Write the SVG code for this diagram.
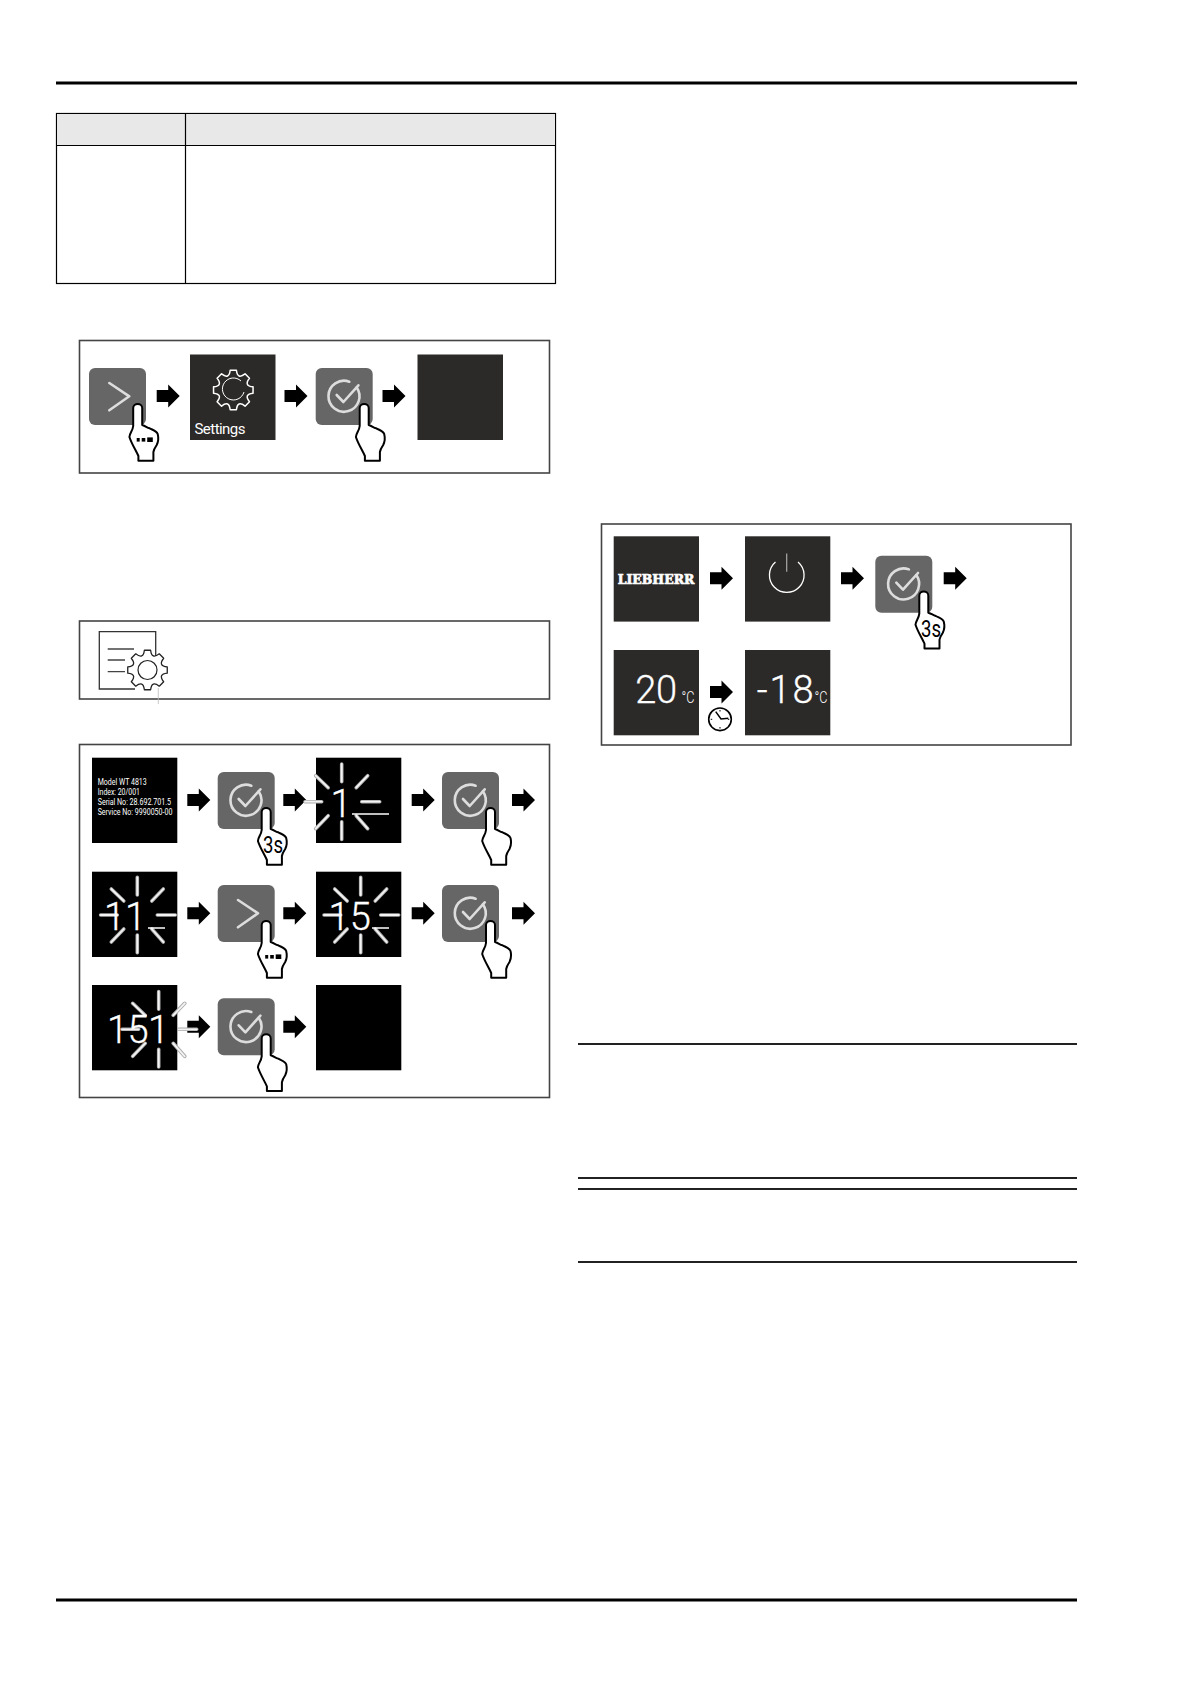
<svg xmlns="http://www.w3.org/2000/svg" width="1191" height="1684" viewBox="0 0 1191 1684">
<style>
.box{fill:#fff;stroke:#444;stroke-width:1.6}
.dark{fill:#2c2a29}
.blk{fill:#000}
.btn{fill:#666}
.ico{fill:none;stroke:#ddd;stroke-width:2.6;stroke-linecap:round;stroke-linejoin:round}
.hand{fill:#fff;stroke:#000;stroke-width:2;stroke-linejoin:round}
.rule{fill:#222}
.rayo{fill:none;stroke:#aaa;stroke-width:3.6;stroke-linecap:round}
.rayi{fill:none;stroke:#f4f4f4;stroke-width:1.8;stroke-linecap:round}
.thin{fill:none;stroke:#fff;stroke-width:1.5}
.gear{fill:none;stroke:#fff;stroke-width:1.5;stroke-linejoin:round}
text{font-family:Roboto,"Liberation Sans",sans-serif;fill:#fff}
.num{font-size:38px;font-weight:300;stroke:#fff;stroke-width:0.3}
.info{font-size:8.2px}
.deg{font-size:16px;font-weight:300}
.s3{font-size:23px;fill:#000;font-weight:400}
</style>
<defs>
<path id="arrow" d="M0,-6H11.500V-11.500L23,0L11.500,11.500V6H0Z" fill="#000"/>
<g id="btn-check"><rect class="btn" width="57" height="57" rx="6"/><path class="ico" d="M41,19.400A15.500,15.500 0 1 1 33.600,13.700"/><path class="ico" d="M21,27L27.700,34L42.700,17.300"/></g>
<g id="btn-next"><rect class="btn" width="57" height="57" rx="6"/><path class="ico" d="M20.300,15L40.300,28.300L20.300,42.300"/></g>
<path id="hand" class="hand" d="M-4.500,22L-4.500,4C-4.500,-1.500 4.500,-1.500 4.500,4L4.500,21C8,22 9,23.500 12,24.300C15,26 19,27 20,30C21,34 20.500,38 19,41C17,44 16,46 15.700,48L15.700,56.700L0.700,56.700L0.700,52C-2,46 -6,40 -8.300,33C-8,29 -5,27 -4.500,22Z"/>
<g id="dots" fill="#000"><rect x="-1" y="34" width="3" height="3.600"/><rect x="4" y="34" width="3.600" height="3.600"/><rect x="9.500" y="33.400" width="5.600" height="4.600"/></g>
<g id="rays"><path class="rayo" d="M0,-37.700V-20M0,20V37.700M-36.700,0H-20M20,0H38M-26,-26L-13.500,-14M26,-26L14.500,-14M-26,27L-13.500,14M26,27L14.500,14"/><path class="rayi" d="M0,-37.700V-20M0,20V37.700M-36.700,0H-20M20,0H38M-26,-26L-13.500,-14M26,-26L14.500,-14M-26,27L-13.500,14M26,27L14.500,14"/></g>
<path id="cog" d="M19.750,3.130Q10.160,4.210 16.180,11.760L11.760,16.180Q4.210,10.160 3.130,19.750L-3.130,19.750Q-4.210,10.160 -11.760,16.180L-16.180,11.760Q-10.160,4.210 -19.750,3.130L-19.750,-3.130Q-10.160,-4.210 -16.180,-11.760L-11.760,-16.180Q-4.210,-10.160 -3.130,-19.750L3.130,-19.750Q4.210,-10.160 11.760,-16.180L16.180,-11.760Q10.160,-4.210 19.750,-3.130Z"/>
</defs>
<rect width="1191" height="1684" fill="#fff"/>

<g id="page-rules">
<rect x="56" y="81.500" width="1021" height="3" fill="#000"/>
<rect x="56" y="1598.500" width="1021" height="3" fill="#000"/>
<rect class="rule" x="578" y="1043" width="499" height="2"/>
<rect class="rule" x="578" y="1177" width="499" height="2"/>
<rect class="rule" x="578" y="1188" width="499" height="2"/>
<rect class="rule" x="578" y="1261" width="499" height="2"/>
</g>

<g id="table">
<rect x="56.500" y="113.500" width="499" height="170" fill="#fff" stroke="#000" stroke-width="1.200"/>
<rect x="57" y="114" width="498" height="31.500" fill="#e8e8e8"/>
<path d="M56,145.500H556M185.500,113V284" fill="none" stroke="#000" stroke-width="1.200"/>
</g>

<g id="frames">
<rect class="box" x="79.500" y="340.500" width="470" height="132.500"/>
<rect class="box" x="79.500" y="621" width="470" height="78"/>
<rect class="box" x="79.500" y="744.500" width="470" height="353"/>
<rect class="box" x="601.500" y="524" width="469.500" height="221"/>
</g>

<g id="connectors">
<use href="#arrow" x="156.700" y="396"/><use href="#arrow" x="284.500" y="396"/><use href="#arrow" x="382.500" y="396"/>
<use href="#arrow" x="187.300" y="800"/><use href="#arrow" x="283.300" y="800"/><use href="#arrow" x="411.700" y="800"/><use href="#arrow" x="512" y="800"/>
<use href="#arrow" x="187.300" y="913.300"/><use href="#arrow" x="283.300" y="913.300"/><use href="#arrow" x="411.700" y="913.300"/><use href="#arrow" x="512" y="913.300"/>
<use href="#arrow" x="187.300" y="1026.700"/><use href="#arrow" x="283.300" y="1026.700"/>
<use href="#arrow" x="710" y="578.300"/><use href="#arrow" x="841" y="578.300"/><use href="#arrow" x="943.700" y="578.300"/>
<use href="#arrow" x="710" y="692"/>
</g>

<g id="n1-next"><use href="#btn-next" x="89" y="368"/><use href="#hand" x="137.700" y="404"/><use href="#dots" x="137.700" y="404"/></g>
<g id="n1-settings"><rect class="dark" x="190" y="354.500" width="85.500" height="85.500"/><use href="#cog" class="gear" x="233.300" y="390"/><path class="thin" style="stroke-width:1" d="M241,381A11,11 0 1 0 244,392"/><text x="194.500" y="434" font-size="15" textLength="51">Settings</text></g>
<g id="n1-check"><use href="#btn-check" x="315.700" y="368"/><use href="#hand" x="364.200" y="404"/></g>
<g id="n1-blank"><rect class="dark" x="417.500" y="354.500" width="85.500" height="85.500"/></g>

<g id="n2-icon">
<path d="M155.700,667V631.700H99.300V689H135" fill="none" stroke="#333" stroke-width="1.300"/>
<path d="M107.700,649H134M107.700,660H125M107.700,671.700H125" fill="none" stroke="#444" stroke-width="1.300"/>
<use href="#cog" x="147.500" y="670" fill="#fff" stroke="#222" stroke-width="1.300" stroke-linejoin="round"/>
<circle cx="147.500" cy="670" r="9.500" fill="none" stroke="#222" stroke-width="1.200"/>
<path d="M158.300,688V704" stroke="#bbb" stroke-width="0.800"/>
</g>

<g id="n3-info"><rect class="blk" x="92" y="757.700" width="85.300" height="85.300"/>
<text class="info" x="97.700" y="785" textLength="49" lengthAdjust="spacingAndGlyphs">Model WT 4813</text>
<text class="info" x="97.700" y="795" textLength="42.300" lengthAdjust="spacingAndGlyphs">Index: 20/001</text>
<text class="info" x="97.700" y="805" textLength="73.300" lengthAdjust="spacingAndGlyphs">Serial No: 28.692.701.5</text>
<text class="info" x="97.700" y="815" textLength="74.700" lengthAdjust="spacingAndGlyphs">Service No: 9990050-00</text></g>
<g id="n3-check1"><use href="#btn-check" x="217.700" y="772"/><use href="#hand" x="266.200" y="808"/><text class="s3" x="273" y="853" text-anchor="middle" textLength="20" lengthAdjust="spacingAndGlyphs">3s</text></g>
<g id="n3-digit1"><rect class="blk" x="316" y="757.700" width="85.300" height="85.300"/><use href="#rays" x="341.700" y="801.700"/><path class="thin" d="M352,814H389"/><text class="num" x="341" y="816.700" text-anchor="middle">1</text></g>
<g id="n3-check2"><use href="#btn-check" x="442" y="772"/><use href="#hand" x="490.500" y="808"/></g>
<g id="n3-digit11"><rect class="blk" x="92" y="871.700" width="85.300" height="85.300"/><use href="#rays" x="137.300" y="915"/><path class="thin" d="M148,928H165"/><text class="num" x="125" y="930" text-anchor="middle">11</text></g>
<g id="n3-next"><use href="#btn-next" x="217.700" y="885"/><use href="#hand" x="266.200" y="921"/><use href="#dots" x="266.200" y="921"/></g>
<g id="n3-digit15"><rect class="blk" x="316" y="871.700" width="85.300" height="85.300"/><use href="#rays" x="360.700" y="915"/><path class="thin" d="M372,928H389"/><text class="num" x="349.700" y="930" text-anchor="middle">15</text></g>
<g id="n3-check3"><use href="#btn-check" x="442" y="885"/><use href="#hand" x="490.500" y="921"/></g>
<g id="n3-digit151"><rect class="blk" x="92" y="985" width="85.300" height="85.300"/><use href="#rays" x="158.700" y="1029.300"/><text class="num" x="138" y="1043" text-anchor="middle" textLength="62">151</text></g>
<g id="n3-check4"><use href="#btn-check" x="217.700" y="998.300"/><use href="#hand" x="266.200" y="1034.300"/></g>
<g id="n3-blank"><rect class="blk" x="316" y="985" width="85.300" height="85.300"/></g>

<g id="n4-logo"><rect class="dark" x="613.700" y="536.300" width="85.300" height="85.300"/><text x="617.700" y="584" font-size="13.500" font-weight="700" textLength="76.700" lengthAdjust="spacingAndGlyphs" stroke="#fff" stroke-width="0.700" style="font-family:'DejaVu Serif','Liberation Serif',serif">LIEBHERR</text></g>
<g id="n4-power"><rect class="dark" x="745" y="536.300" width="85.300" height="85.300"/><path d="M798,562A17.300,17.300 0 1 1 775.500,562" fill="none" stroke="#fff" stroke-width="1.300"/><path d="M786.700,553.500V571.700" stroke="#aaa" stroke-width="1.200"/></g>
<g id="n4-check"><use href="#btn-check" x="875.300" y="555.700"/><use href="#hand" x="923.800" y="591.700"/><text class="s3" x="931" y="637" text-anchor="middle" textLength="20" lengthAdjust="spacingAndGlyphs">3s</text></g>
<g id="n4-20"><rect class="dark" x="613.700" y="650" width="85.300" height="85.300"/><text class="num" x="656.200" y="702.500" text-anchor="middle" textLength="42">20</text><text class="deg" x="681.500" y="703" textLength="13" lengthAdjust="spacingAndGlyphs">°C</text></g>
<g id="n4-clock"><circle cx="720" cy="719.300" r="11.300" fill="#fff" stroke="#000" stroke-width="1.600"/><path d="M715.700,711.600L721,719L728.300,718.300" fill="none" stroke="#000" stroke-width="1.500"/><path d="M720,710V711.500M720,727V728.600M710.700,719.300H712.200M727.800,719.300H729.300" stroke="#000" stroke-width="1"/></g>
<g id="n4-18"><rect class="dark" x="745" y="650" width="85.300" height="85.300"/><text class="num" x="785.200" y="703" text-anchor="middle" textLength="57">-18</text><text class="deg" x="814.500" y="703" textLength="13" lengthAdjust="spacingAndGlyphs">°C</text></g>
</svg>
